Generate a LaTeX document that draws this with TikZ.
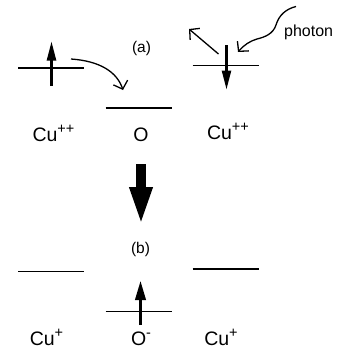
\documentclass[tikz,border=0pt]{standalone}
\usepackage{fontspec}
\setmainfont{Liberation Sans}
\usetikzlibrary{arrows.meta}
\tikzset{
  level/.style={line width=1.7pt},
  spin/.style={line width=2.4pt,-{Triangle[length=19pt,width=9pt]}},
  thin arrow/.style={line width=1.3pt,-{Straight Barb[length=7pt,width=15pt]}},
  lbl/.style={inner sep=0pt,anchor=base,font=\fontsize{19.5}{22}\selectfont},
  tag/.style={inner sep=0pt,font=\fontsize{15.5}{17}\selectfont},
}
\newcommand{\sups}[1]{\raisebox{8pt}{\fontsize{14.5}{14}\selectfont #1}}
\begin{document}
\begin{tikzpicture}[x=1pt,y=-1pt]
\useasboundingbox (0,0) rectangle (337,351);
% ---- (a) ----
\coordinate (L1a) at (18,68);   \coordinate (L1b) at (84,68);
\coordinate (M1a) at (105.5,108); \coordinate (M1b) at (172,108);
\coordinate (R1a) at (192.5,65.5); \coordinate (R1b) at (258.5,65.5);
\draw[level] (L1a) -- (L1b);
\draw[level] (M1a) -- (M1b);
\draw[level] (R1a) -- (R1b);
% spins
\coordinate (s1b) at (51.5,86); \coordinate (s1t) at (51.5,41.5);
\draw[spin] (s1b) -- (s1t);
\coordinate (s2t) at (226.5,45); \coordinate (s2b) at (226.5,89.5);
\draw[spin] (s2t) -- (s2b);
% hopping arrow
\coordinate (h0) at (71,59); \coordinate (h1) at (123,90);
\draw[thin arrow] (h0) .. controls (100,61) and (117,72) .. (h1);
% emitted
\coordinate (e0) at (218.5,54); \coordinate (e1) at (189,29);
\draw[thin arrow] (e0) -- (e1);
% photon
\coordinate (p0) at (296,6.5); \coordinate (p1) at (238,52);
\draw[thin arrow] (p0) .. controls (286,9) and (279,15) .. (276,25)
  .. controls (273,34) and (265,37) .. (257,39)
  .. controls (250,41) and (244,45) .. (p1);
\node[tag,font=\fontsize{16}{18}\selectfont,anchor=base west] (ph) at (284,36) {photon};
\node[tag] (ta) at (141.5,48.5) {(a)};
\node[lbl] (cu1) at (53.5,141.5) {Cu\sups{++}};
\node[lbl] (o1) at (141,141.5) {O};
\node[lbl] (cu2) at (228,139.5) {Cu\sups{++}};
% big arrow
\coordinate (ba0) at (141,164); \coordinate (ba1) at (141,226);
\draw[line width=10pt,-{Triangle[length=39pt,width=20.5pt]}] (ba0) -- (ba1);
% ---- (b) ----
\node[tag] (tb) at (140.5,249.5) {(b)};
\coordinate (L2a) at (18,271.5);  \coordinate (L2b) at (84,271.5);
\coordinate (R2a) at (192.5,269); \coordinate (R2b) at (258.5,269);
\coordinate (M2a) at (105.5,311.5); \coordinate (M2b) at (172,311.5);
\draw[level] (L2a) -- (L2b);
\draw[level] (R2a) -- (R2b);
\draw[level] (M2a) -- (M2b);
\coordinate (s3b) at (140.5,325); \coordinate (s3t) at (140.5,281);
\draw[spin,-{Triangle[length=19pt,width=10.5pt]}] (s3b) -- (s3t);
\node[lbl] (cu3) at (46.5,345.5) {Cu\sups{+}};
\node[lbl] (o2) at (141,345.5) {O\sups{-}};
\node[lbl] (cu4) at (221,345) {Cu\sups{+}};
\end{tikzpicture}
\end{document}
